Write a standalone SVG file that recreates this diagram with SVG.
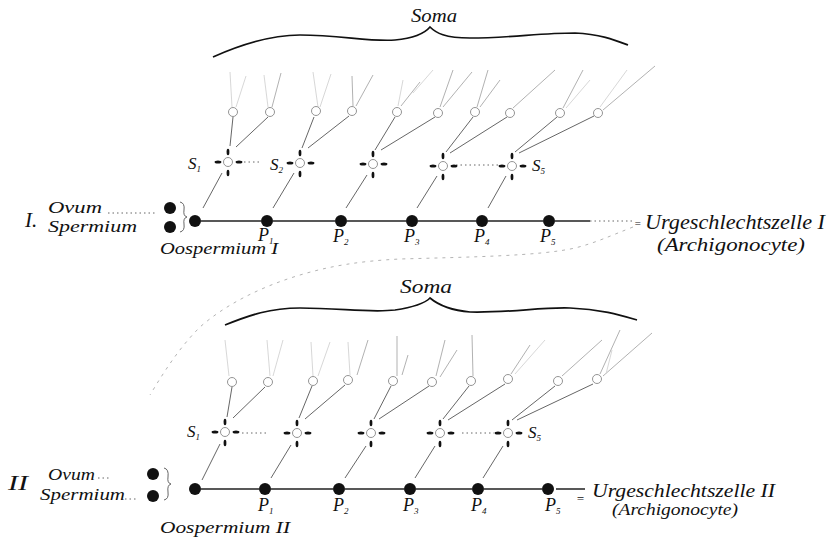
<svg xmlns="http://www.w3.org/2000/svg" xmlns:xlink="http://www.w3.org/1999/xlink" width="835" height="545" viewBox="0 0 835 545">
<style>
.t{font-family:"Liberation Serif","DejaVu Serif",serif;font-style:italic;fill:#111}
.dot{fill:#111}
.ln{stroke:#222;stroke-width:1.3;fill:none}
.sl{stroke:#555;stroke-width:0.9;fill:none}
.f1{stroke:#a8a8a8;stroke-width:0.9;fill:none}
.f2{stroke:#d2d2d2;stroke-width:0.9;fill:none}
.dt{stroke:#555;stroke-width:0.9;fill:none;stroke-dasharray:1.5 3}
.ds{stroke:#aaa;stroke-width:0.9;fill:none;stroke-dasharray:3 5}
.br{stroke:#111;stroke-width:1.7;fill:none}
.oc{fill:#fff;stroke:#888;stroke-width:0.9}
.mk{fill:#111}
</style>
<defs>
<g id="snode">
<circle class="oc" cx="0" cy="0" r="4.5"/>
<ellipse class="mk" cx="0" cy="-10" rx="1.4" ry="3.2"/>
<ellipse class="mk" cx="0" cy="11" rx="1.4" ry="3.2"/>
<ellipse class="mk" cx="-10" cy="0" rx="3.4" ry="1.5"/>
<ellipse class="mk" cx="11" cy="0" rx="3.4" ry="1.5"/>
</g>
</defs>
<rect width="835" height="545" fill="#fff"/>

<g id="connectors">
<path class="ln" d="M201,221H261M273,221H335M347,221H406M418,221H476M488,221H543M555,221H590"/>
<path class="dt" d="M590,221H633"/>
<path class="dt" d="M108,213H155"/>
<path class="sl" d="M203,208L222,173M273,208L294,173M346,208L367,175M417,208L437,176M488,208L506,176"/>
<path class="dt" d="M244,162H262M456,165H498"/>
<path class="sl" d="M230,146L233,117M236,147L268,117M302,148L314,117M308,148L349,116M375,150L395,117M381,150L435,117M446,152L473,117M450,153L507,117M515,152L557,117M519,153L594,116"/>
<path class="f2" d="M232,107L230,72M236,107L246,76M268,107L264,75M318,107L313,72M320,107L331,74M398,106L403,80"/>
<path class="f1" d="M272,107L281,73M353,106L352,76M356,106L373,75M401,106L420,82M440,107L453,70M443,107L472,72M477,107L488,70M480,107L500,80M513,108L555,70M563,108L583,70M603,110L655,66"/>
<path class="f2" d="M566,108L590,80M600,107L627,70M413,93L433,70"/>
<path class="ds" d="M633,227C610,236 595,243 575,248C540,256 470,257 400,259C360,261 330,266 300,275C260,287 225,305 200,327C180,347 165,370 150,395"/>
<path class="ln" d="M201,489H259M271,489H333M345,489H404M416,489H472M484,489H542M556,489H585"/>
<path class="dt" d="M98,478H110M125,499H136"/>
<path class="sl" d="M202,480L220,444M271,478L291,445M345,478L366,446M415,478L435,446M483,478L503,446"/>
<path class="dt" d="M242,433H268M462,433H494"/>
<path class="sl" d="M227,417L232,387M233,418L265,387M299,418L312,386M305,419L345,385M374,419L391,386M379,419L429,386M443,419L469,386M448,420L505,384M512,420L555,386M517,420L593,384"/>
<path class="f2" d="M229,376L225,340M270,376L267,340M273,376L283,340M313,376L311,342M318,376L330,342M350,375L348,342"/>
<path class="f1" d="M357,375L368,340M397,376L397,336M402,375L408,355M436,376L445,340M440,377L457,350M473,376L472,335M511,374L530,345M562,376L602,340M600,374L620,330M603,376L652,333"/>
<path class="f2" d="M515,374L545,340M606,374L612,350"/>
</g>

<g id="soma-top">
<path class="br" d="M213,57C240,45 270,35 300,35C340,35 370,42 395,40C415,38 425,33 430,27C436,33 445,38 470,38C510,38 540,33 575,33C600,34 615,40 628,45"/>
<text class="t" x="411" y="22" font-size="18" textLength="46" lengthAdjust="spacingAndGlyphs">Soma</text>
</g>
<g id="soma-bottom">
<path class="br" d="M225,325C250,315 270,308 300,308C340,308 370,313 395,310C415,307 425,303 430,298C436,303 447,310 470,312C510,313 540,307 570,308C600,309 620,315 637,320"/>
<text class="t" x="400" y="293" font-size="18" textLength="52" lengthAdjust="spacingAndGlyphs">Soma</text>
</g>

<g id="label-I"><text class="t" x="25" y="227" font-size="21">I.</text></g>
<g id="ovum-I"><circle class="dot" cx="170" cy="208" r="6"/><text class="t" x="48" y="213" font-size="16" textLength="54" lengthAdjust="spacingAndGlyphs">Ovum</text></g>
<g id="sperm-I"><circle class="dot" cx="170" cy="227" r="6"/><text class="t" x="48" y="232" font-size="16" textLength="89" lengthAdjust="spacingAndGlyphs">Spermium</text></g>
<g id="brace-I"><path class="sl" d="M180,202Q185,203 184,210Q183,216 187,217Q183,218 184,224Q185,231 180,232"/></g>
<g id="oosp-I"><circle class="dot" cx="195" cy="221" r="6"/><text class="t" x="160" y="254" font-size="17" textLength="118" lengthAdjust="spacingAndGlyphs">Oospermium I</text></g>
<g id="P1-I"><circle class="dot" cx="267" cy="221" r="6"/><text class="t" x="258" y="241" font-size="18">P<tspan font-size="9" dy="3">1</tspan></text></g>
<g id="P2-I"><circle class="dot" cx="341" cy="221" r="6"/><text class="t" x="333" y="242" font-size="18">P<tspan font-size="9" dy="3">2</tspan></text></g>
<g id="P3-I"><circle class="dot" cx="412" cy="221" r="6"/><text class="t" x="404" y="242" font-size="18">P<tspan font-size="9" dy="3">3</tspan></text></g>
<g id="P4-I"><circle class="dot" cx="482" cy="221" r="6"/><text class="t" x="474" y="242" font-size="18">P<tspan font-size="9" dy="3">4</tspan></text></g>
<g id="P5-I"><circle class="dot" cx="549" cy="221" r="6"/><text class="t" x="540" y="242" font-size="18">P<tspan font-size="9" dy="3">5</tspan></text></g>
<g id="S1-I"><use href="#snode" x="228" y="162"/><text class="t" x="188" y="169" font-size="17">S<tspan font-size="9" dy="3">1</tspan></text></g>
<g id="S2-I"><use href="#snode" x="300" y="163"/><text class="t" x="270" y="170" font-size="17">S<tspan font-size="9" dy="3">2</tspan></text></g>
<g id="S3-I"><use href="#snode" x="373" y="164"/></g>
<g id="S4-I"><use href="#snode" x="443" y="166"/></g>
<g id="S5-I"><use href="#snode" x="512" y="166"/><text class="t" x="532" y="171" font-size="17">S<tspan font-size="9" dy="3">5</tspan></text></g>
<g id="cells-I">
<circle class="oc" cx="233" cy="112" r="4.5"/><circle class="oc" cx="270" cy="112" r="4.5"/>
<circle class="oc" cx="316" cy="111" r="4.5"/><circle class="oc" cx="352" cy="111" r="4.5"/>
<circle class="oc" cx="397" cy="112" r="4.5"/><circle class="oc" cx="438" cy="113" r="4.5"/>
<circle class="oc" cx="475" cy="112" r="4.5"/><circle class="oc" cx="510" cy="113" r="4.5"/>
<circle class="oc" cx="560" cy="113" r="4.5"/><circle class="oc" cx="598" cy="113" r="4.5"/>
</g>
<g id="urgeschlechtszelle-I">
<text class="t" x="634" y="227" font-size="11">=</text>
<text class="t" x="645" y="229" font-size="20" textLength="180" lengthAdjust="spacingAndGlyphs">Urgeschlechtszelle I</text>
<text class="t" x="657" y="251" font-size="18" textLength="148" lengthAdjust="spacingAndGlyphs">(Archigonocyte)</text>
</g>

<g id="label-II"><text class="t" x="8" y="490" font-size="20" textLength="20" lengthAdjust="spacingAndGlyphs">II</text></g>
<g id="ovum-II"><circle class="dot" cx="153" cy="474" r="6"/><text class="t" x="48" y="480" font-size="16" textLength="47" lengthAdjust="spacingAndGlyphs">Ovum</text></g>
<g id="sperm-II"><circle class="dot" cx="153" cy="496" r="6"/><text class="t" x="40" y="500" font-size="16" textLength="85" lengthAdjust="spacingAndGlyphs">Spermium</text></g>
<g id="brace-II"><path class="sl" d="M164,468Q169,469 168,477Q167,483 171,484Q167,485 168,492Q169,499 164,500"/></g>
<g id="oosp-II"><circle class="dot" cx="195" cy="489" r="6"/><text class="t" x="160" y="533" font-size="17" textLength="130" lengthAdjust="spacingAndGlyphs">Oospermium II</text></g>
<g id="P1-II"><circle class="dot" cx="265" cy="489" r="6"/><text class="t" x="258" y="511" font-size="18">P<tspan font-size="9" dy="3">1</tspan></text></g>
<g id="P2-II"><circle class="dot" cx="339" cy="489" r="6"/><text class="t" x="333" y="511" font-size="18">P<tspan font-size="9" dy="3">2</tspan></text></g>
<g id="P3-II"><circle class="dot" cx="410" cy="489" r="6"/><text class="t" x="403" y="511" font-size="18">P<tspan font-size="9" dy="3">3</tspan></text></g>
<g id="P4-II"><circle class="dot" cx="478" cy="489" r="6"/><text class="t" x="471" y="511" font-size="18">P<tspan font-size="9" dy="3">4</tspan></text></g>
<g id="P5-II"><circle class="dot" cx="548" cy="489" r="6"/><text class="t" x="545" y="511" font-size="18">P<tspan font-size="9" dy="3">5</tspan></text></g>
<g id="S1-II"><use href="#snode" x="225" y="432"/><text class="t" x="187" y="437" font-size="17">S<tspan font-size="9" dy="3">1</tspan></text></g>
<g id="S2-II"><use href="#snode" x="297" y="433"/></g>
<g id="S3-II"><use href="#snode" x="371" y="433"/></g>
<g id="S4-II"><use href="#snode" x="440" y="433"/></g>
<g id="S5-II"><use href="#snode" x="508" y="433"/><text class="t" x="528" y="438" font-size="17">S<tspan font-size="9" dy="3">5</tspan></text></g>
<g id="cells-II">
<circle class="oc" cx="232" cy="382" r="4.5"/><circle class="oc" cx="268" cy="382" r="4.5"/>
<circle class="oc" cx="313" cy="381" r="4.5"/><circle class="oc" cx="348" cy="380" r="4.5"/>
<circle class="oc" cx="393" cy="381" r="4.5"/><circle class="oc" cx="432" cy="382" r="4.5"/>
<circle class="oc" cx="471" cy="381" r="4.5"/><circle class="oc" cx="508" cy="379" r="4.5"/>
<circle class="oc" cx="558" cy="381" r="4.5"/><circle class="oc" cx="597" cy="379" r="4.5"/>
</g>
<g id="urgeschlechtszelle-II">
<text class="t" x="576" y="503" font-size="13">=</text>
<text class="t" x="592" y="497" font-size="19" textLength="183" lengthAdjust="spacingAndGlyphs">Urgeschlechtszelle II</text>
<text class="t" x="612" y="515" font-size="16" textLength="126" lengthAdjust="spacingAndGlyphs">(Archigonocyte)</text>
</g>
</svg>
